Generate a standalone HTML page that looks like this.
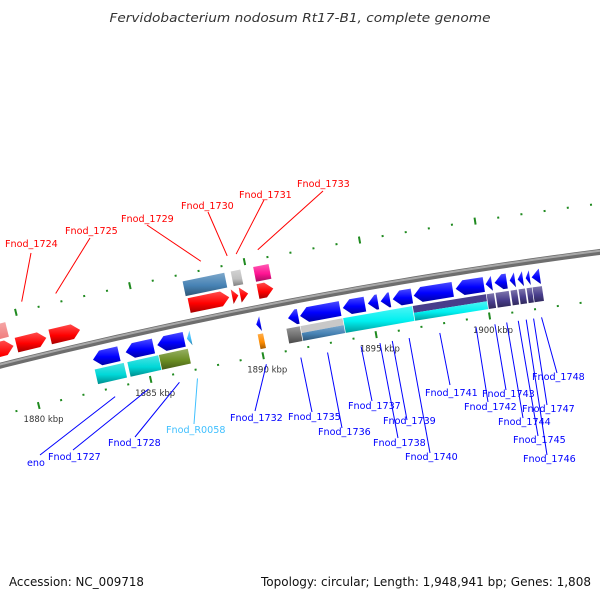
<!DOCTYPE html>
<html><head><meta charset="utf-8">
<style>
html,body{margin:0;padding:0;background:#fff;}
svg{display:block;}
text{font-family:"DejaVu Sans","Liberation Sans",sans-serif;}
</style></head>
<body>
<svg id="chart" width="600" height="600" viewBox="0 0 600 600" xmlns="http://www.w3.org/2000/svg">
<defs id="defs"></defs>
<text x="300" y="22" text-anchor="middle" font-size="12.5" font-style="italic" fill="#333" textLength="381" lengthAdjust="spacingAndGlyphs">Fervidobacterium nodosum Rt17-B1, complete genome</text>
<g id="ticks"></g>
<g id="backbone"></g>
<g id="genes"></g>
<g id="labels"></g>
<text x="9" y="586" font-size="12" fill="#111" textLength="135" lengthAdjust="spacingAndGlyphs">Accession: NC_009718</text>
<text x="261" y="586" font-size="12" fill="#111" textLength="330" lengthAdjust="spacingAndGlyphs">Topology: circular; Length: 1,948,941 bp; Genes: 1,808</text>
</svg>
<script>
// ---- data (kbp) ----
const tickKbp = [1876,1877,1878,1879,1880,1881,1882,1883,1884,1885,1886,1887,1888,1889,1890,1891,1892,1893,1894,1895,1896,1897,1898,1899,1900,1901,1902,1903,1904,1905,1906,1907,1908];
const majorTickLabels = ["1880 kbp","1885 kbp","1890 kbp","1895 kbp","1900 kbp"];
const majorTickKbp = [1880,1885,1890,1895,1900];

// forward CDS arrows: name, start, end
const fwdNames = ["", "Fnod_1724","Fnod_1725","Fnod_1729","Fnod_1730","Fnod_1731","Fnod_1733"];
const fwdStart = [1877.2,1879.65,1881.14,1887.26,1889.15,1889.50,1890.28];
const fwdEnd   = [1879.6,1881.05,1882.54,1889.10,1889.50,1889.93,1891.03];

// forward feature boxes (outer lane)
const fboxStart = [1877.0,1887.2,1889.3,1890.28];
const fboxEnd   = [1879.5,1889.1,1889.8,1891.03];
const fboxColor = ["#f08080","#4682b4","#c0c0c0","#ff1493"];

// reverse CDS arrows
const revNames = ["eno","Fnod_1727","Fnod_1728","Fnod_R0058","Fnod_1732","Fnod_1735","Fnod_1736","Fnod_1737","Fnod_1738","Fnod_1739","Fnod_1740","Fnod_1741","Fnod_1742","Fnod_1743","Fnod_1744","Fnod_1745","Fnod_1746","Fnod_1747","Fnod_1748",""];
const revStart = [1882.71,1884.16,1885.56,1886.87,1889.93,1891.33,1891.86,1893.74,1894.84,1895.40,1895.93,1896.85,1898.69,1900.00,1900.39,1901.05,1901.40,1901.75,1902.01,1905.3];
const revEnd   = [1883.94,1885.47,1886.83,1887.13,1890.20,1891.86,1893.70,1894.79,1895.36,1895.89,1896.85,1898.64,1900.00,1900.35,1901.00,1901.36,1901.71,1902.01,1902.45,1906.5];

// reverse feature boxes (inner lane): start, end, top colour, bottom colour
const rboxStart = [1882.71,1884.16,1885.56,1889.93,1891.2,1891.82,1893.70,1896.76,1900.0,1900.39,1901.05,1901.40,1901.75,1902.01];
const rboxEnd   = [1884.03,1885.56,1886.87,1890.20,1891.82,1893.70,1896.76,1900.0,1900.35,1901.00,1901.36,1901.71,1902.01,1902.45];
const rboxTop   = ["#00d8d8","#00d8d8","#6b8e23","#ff8c00","#707070","#c8c8c8","#00f0f0","#483d8b","#483d8b","#483d8b","#483d8b","#483d8b","#483d8b","#483d8b"];
const rboxBot   = ["#00d8d8","#00d8d8","#6b8e23","#ff8c00","#707070","#4682b4","#00f0f0","#00f0f0","#483d8b","#483d8b","#483d8b","#483d8b","#483d8b","#483d8b"];

// label layout (text x, baseline y, line end x, line end y)
const fwdLabelPos = [null,[5,247,31,253],[65,234,90,238],[121,222,147,225],[181,209,208,212],[239,198,264,200],[297,187,323,191]];
const revLabelPos = [[27,466,40,455],[48,460,73,450],[108,446,135,437],[166,433,194,424],[230,421,255,411],[288,420,312,412],[318,435,342,428],[348,409,372,401],[373,446,398,438],[383,424,407,420],[405,460,430,453],[425,396,450,385],[464,410,488,402],[482,397,506,390],[498,425,523,418],[513,443,538,436],[523,462,547,455],[522,412,547,405],[532,380,557,373],null];

// ---- axis ----
const CX=1267, CY=5409, R=5200, A0=-0.1961, K=0.004462;
function pt(kb, dr){const a=A0+(kb-1890)*K, r=R+dr; return [CX+r*Math.sin(a), CY-r*Math.cos(a)];}
const NS="http://www.w3.org/2000/svg";
function mk(tag, attrs, parent){const e=document.createElementNS(NS,tag); for(const k in attrs) e.setAttribute(k,attrs[k]); parent.appendChild(e); return e;}
function P(p){return p[0].toFixed(2)+","+p[1].toFixed(2);}

const defs=document.getElementById('defs');
const gradCache={};
function shade(hex,f){let n=parseInt(hex.slice(1),16);let r=n>>16,g=(n>>8)&255,b=n&255;
  if(f>0){r+= (255-r)*f; g+=(255-g)*f; b+=(255-b)*f;} else {r*=1+f; g*=1+f; b*=1+f;}
  return "rgb("+Math.round(r)+","+Math.round(g)+","+Math.round(b)+")";}
function grad(c){ if(gradCache[c]) return gradCache[c]; const id="g"+c.slice(1);
  const lg=mk('linearGradient',{id:id,x1:0,y1:0,x2:0,y2:1},defs);
  mk('stop',{offset:"0",'stop-color':shade(c,0.3)},lg);
  mk('stop',{offset:"0.55",'stop-color':c},lg);
  mk('stop',{offset:"1",'stop-color':shade(c,-0.35)},lg);
  gradCache[c]="url(#"+id+")"; return gradCache[c];}

// ticks
const tg=document.getElementById('ticks');
tickKbp.forEach(kb=>{
  const major = majorTickKbp.indexOf(kb)>=0;
  [48,-48].forEach(dr=>{
    const l = major?3.5:1;
    const ln=mk('line',{x1:pt(kb,dr-l)[0],y1:pt(kb,dr-l)[1],x2:pt(kb,dr+l)[0],y2:pt(kb,dr+l)[1],stroke:"#1f8a1f",'stroke-width':2},tg);
    
    
  });
});
majorTickKbp.forEach((kb,i)=>{
  const p=pt(kb,-64);
  const t=mk('text',{x:p[0]+1,y:p[1]+1,'text-anchor':'middle','font-size':'8.5',fill:'#333'},tg);
  t.textContent=majorTickLabels[i];
  
  
});

// backbone
const bg=document.getElementById('backbone');
let d="M"; for(let kb=1876;kb<=1908;kb+=0.5){d+=(kb>1876?" L":"")+P(pt(kb,0));}
const b1=mk('path',{d:d,fill:"none",stroke:"#6e6e6e",'stroke-width':6},bg);


let d2="M"; for(let kb=1876;kb<=1908;kb+=0.5){d2+=(kb>1876?" L":"")+P(pt(kb,1.2));}
mk('path',{d:d2,fill:"none",stroke:"#a8a8a8",'stroke-width':2},bg);

const gg=document.getElementById('genes');
function boxPath(k1,k2,dr1,dr2){return "M"+P(pt(k1,dr1))+" L"+P(pt(k2,dr1))+" L"+P(pt(k2,dr2))+" L"+P(pt(k1,dr2))+" Z";}
function arrowPath(k1,k2,dc,h,dir){
  const head=Math.min(0.34,(k2-k1));
  if(dir>0){const s=k2-head; return "M"+P(pt(k1,dc+h/2))+" L"+P(pt(s,dc+h/2))+" L"+P(pt(k2,dc))+" L"+P(pt(s,dc-h/2))+" L"+P(pt(k1,dc-h/2))+" Z";}
  const s=k1+head; return "M"+P(pt(k2,dc+h/2))+" L"+P(pt(s,dc+h/2))+" L"+P(pt(k1,dc))+" L"+P(pt(s,dc-h/2))+" L"+P(pt(k2,dc-h/2))+" Z";
}
const GAP=0.04, BGAP=0.015;
// forward boxes
fboxStart.forEach((s,i)=>{
  const e=mk('path',{d:boxPath(s+GAP,fboxEnd[i]-GAP,26,41),fill:grad(fboxColor[i])},gg);
  
  
});
// forward arrows
fwdStart.forEach((s,i)=>{
  const e=mk('path',{d:arrowPath(s+GAP,fwdEnd[i]-GAP,16,15,1),fill:grad("#ff0000")},gg);
  
  
});
// reverse arrows
revStart.forEach((s,i)=>{
  const c = revNames[i]==="Fnod_R0058" ? "#40c0ff" : "#0000ff";
  const e=mk('path',{d:arrowPath(s+GAP,revEnd[i]-GAP,-16,15,-1),fill:grad(c)},gg);
  
  
});
// reverse boxes
rboxStart.forEach((s,i)=>{
  const a=s+BGAP,b=rboxEnd[i]-BGAP;
  if(rboxTop[i]===rboxBot[i]){
    const e=mk('path',{d:boxPath(a,b,-26,-41),fill:grad(rboxTop[i])},gg);
    
    
  } else {
    const e1=mk('path',{d:boxPath(a,b,-26,-33),fill:rboxTop[i]},gg);
    
    
    const e2=mk('path',{d:boxPath(a,b,-33,-41),fill:grad(rboxBot[i])},gg);
    
    
  }
});

// labels
const lg=document.getElementById('labels');
function label(name,k1,k2,pos,dr,color){
  const m=pt((k1+k2)/2,dr);
  const ln=mk('line',{x1:m[0],y1:m[1],x2:pos[2],y2:pos[3],stroke:color,'stroke-width':1},lg);
  
  
  const t=mk('text',{x:pos[0],y:pos[1],'font-size':'9.6',fill:color},lg);
  t.textContent=name;
  
  
}
fwdNames.forEach((n,i)=>{ if(n && fwdLabelPos[i]) label(n,fwdStart[i],fwdEnd[i],fwdLabelPos[i],57,"#ff0000"); });
revNames.forEach((n,i)=>{ if(n && revLabelPos[i]) label(n,revStart[i],revEnd[i],revLabelPos[i],-57, n==="Fnod_R0058"?"#40c0ff":"#0000ff"); });
</script>
</body></html>
